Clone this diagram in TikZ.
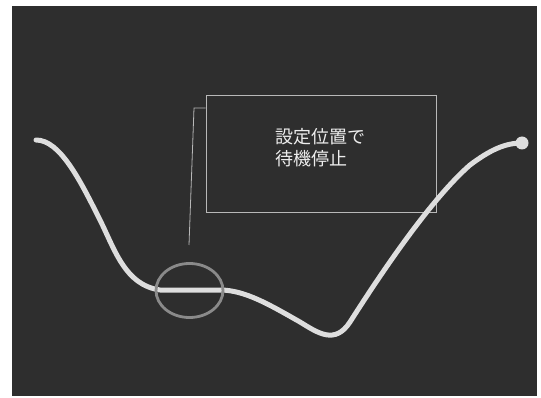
\documentclass[tikz,border=0pt]{standalone}
\usepackage{fontspec}
\usetikzlibrary{shapes.geometric}
\newfontfamily\cjk{Noto Sans CJK JP}
\definecolor{panel}{HTML}{2E2E2E}
\definecolor{curvec}{HTML}{DEDEDE}
\definecolor{boxline}{HTML}{B8B8B8}
\definecolor{ringc}{HTML}{8A8A8A}
\begin{document}
\begin{tikzpicture}[x=1pt,y=-1pt,
  callout/.style={draw=boxline,line width=0.8pt,minimum width=230pt,minimum height=117pt,inner sep=0pt},
  label/.style={text=white!93!black,font=\cjk\fontsize{18}{22}\selectfont,align=left,inner sep=0pt},
  leader/.style={draw=boxline,line width=0.8pt},
  track/.style={draw=curvec,line width=5pt,line cap=round,line join=round},
  ring/.style={draw=ringc,line width=2.8pt,ellipse,minimum width=67pt,minimum height=54pt,inner sep=0pt}]
\useasboundingbox (0,0) rectangle (541,398);
\fill[white] (0,0) rectangle (541,398);
\fill[panel] (12,6) rectangle (537,396);
% callout box
\node[callout] (box) at (321,153.5) {};
\node[label,anchor=north west] (txt) at (275,128) {設定位置で\\待機停止};
\coordinate (lA) at (box.west |- 0,108);
\coordinate (lB) at (194,108);
\coordinate (lC) at (189,245);
\draw[leader] (lA) -- (lB) -- (lC);
% curve
\coordinate (s) at (36,140);
\coordinate (e) at (522,143);
\draw[track] (s) .. controls (60,140) and (80,180) .. (100,220)
  .. controls (115,250) and (125,285) .. (160,290) -- (220,290)
  .. controls (245,290) and (270,305) .. (300,322)
  .. controls (318,333) and (335,345) .. (350,322)
  .. controls (380,275) and (430,200) .. (470,165)
  .. controls (490,150) and (505,143) .. (e);
\fill[curvec] (e) circle (6.5);
% ring
\node[ring] (ring) at (189.5,290.5) {};
\end{tikzpicture}
\end{document}
